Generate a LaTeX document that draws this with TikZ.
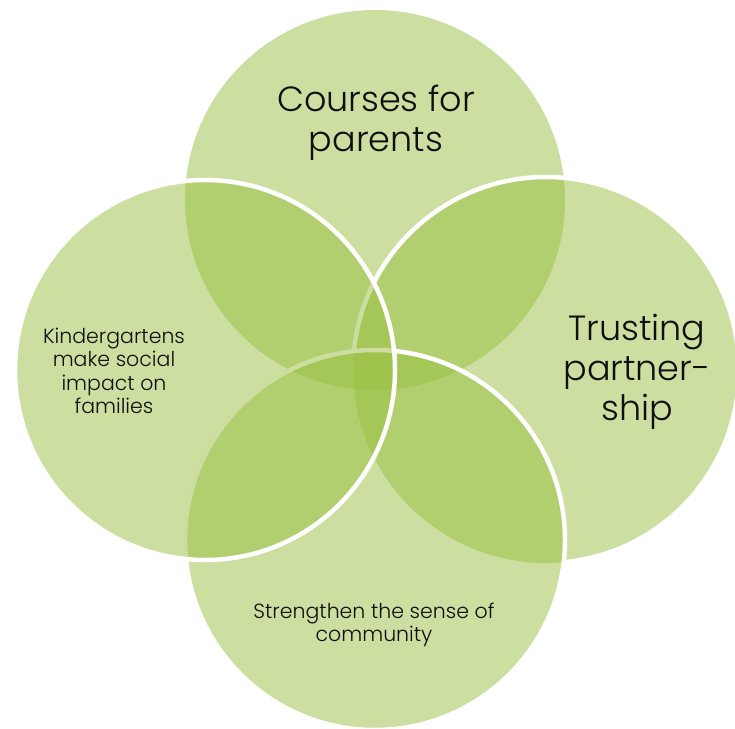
\documentclass[tikz,border=0pt]{standalone}
\usepackage{fontspec}
\setmainfont{Poppins}[UprightFont={* Light}]
\begin{document}
\begin{tikzpicture}[x=1pt,y=-1pt]
\definecolor{vg}{RGB}{153,191,65}
\definecolor{txt}{RGB}{15,15,15}
\tikzset{
  blob/.style={fill=vg, fill opacity=0.5},
  rim/.style={draw=white, line width=4.5pt},
  lbl/.style={align=center, text=txt, inner sep=0pt},
  big/.style={font=\fontsize{35}{40}\selectfont},
  small/.style={font=\fontsize{20.5}{23.5}\selectfont}
}
\useasboundingbox (0,0) rectangle (735,728);
\coordinate (cT) at (375,200);
\coordinate (cR) at (546,370);
\coordinate (cB) at (375,540);
\coordinate (cL) at (205,370);
% fills
\fill[blob] (cT) circle[radius=190pt];
\fill[blob] (cR) circle[radius=193pt];
\fill[blob] (cB) circle[radius=190pt];
% right rim, hidden under the bottom circle
\begin{scope}[even odd rule]
  \clip (-20,-20) rectangle (760,760) (cB) circle[radius=190pt];
  \draw[rim] (cR) circle[radius=193pt];
\end{scope}
\draw[rim] (cB) circle[radius=190pt];
\fill[blob] (cL) circle[radius=190pt];
\draw[rim] (cL) circle[radius=190pt];
% labels
\node[lbl, big] (courses) at (376,123) {Courses for\\parents};
\node[lbl, big] (trust) at (637,372) {Trusting\\partner-\\ship};
\node[lbl, small] (kinder) at (114,371) {Kindergartens\\make social\\impact on\\families};
\node[lbl, small] (strength) at (374,625) {Strengthen the sense of\\community};
\end{tikzpicture}
\end{document}
